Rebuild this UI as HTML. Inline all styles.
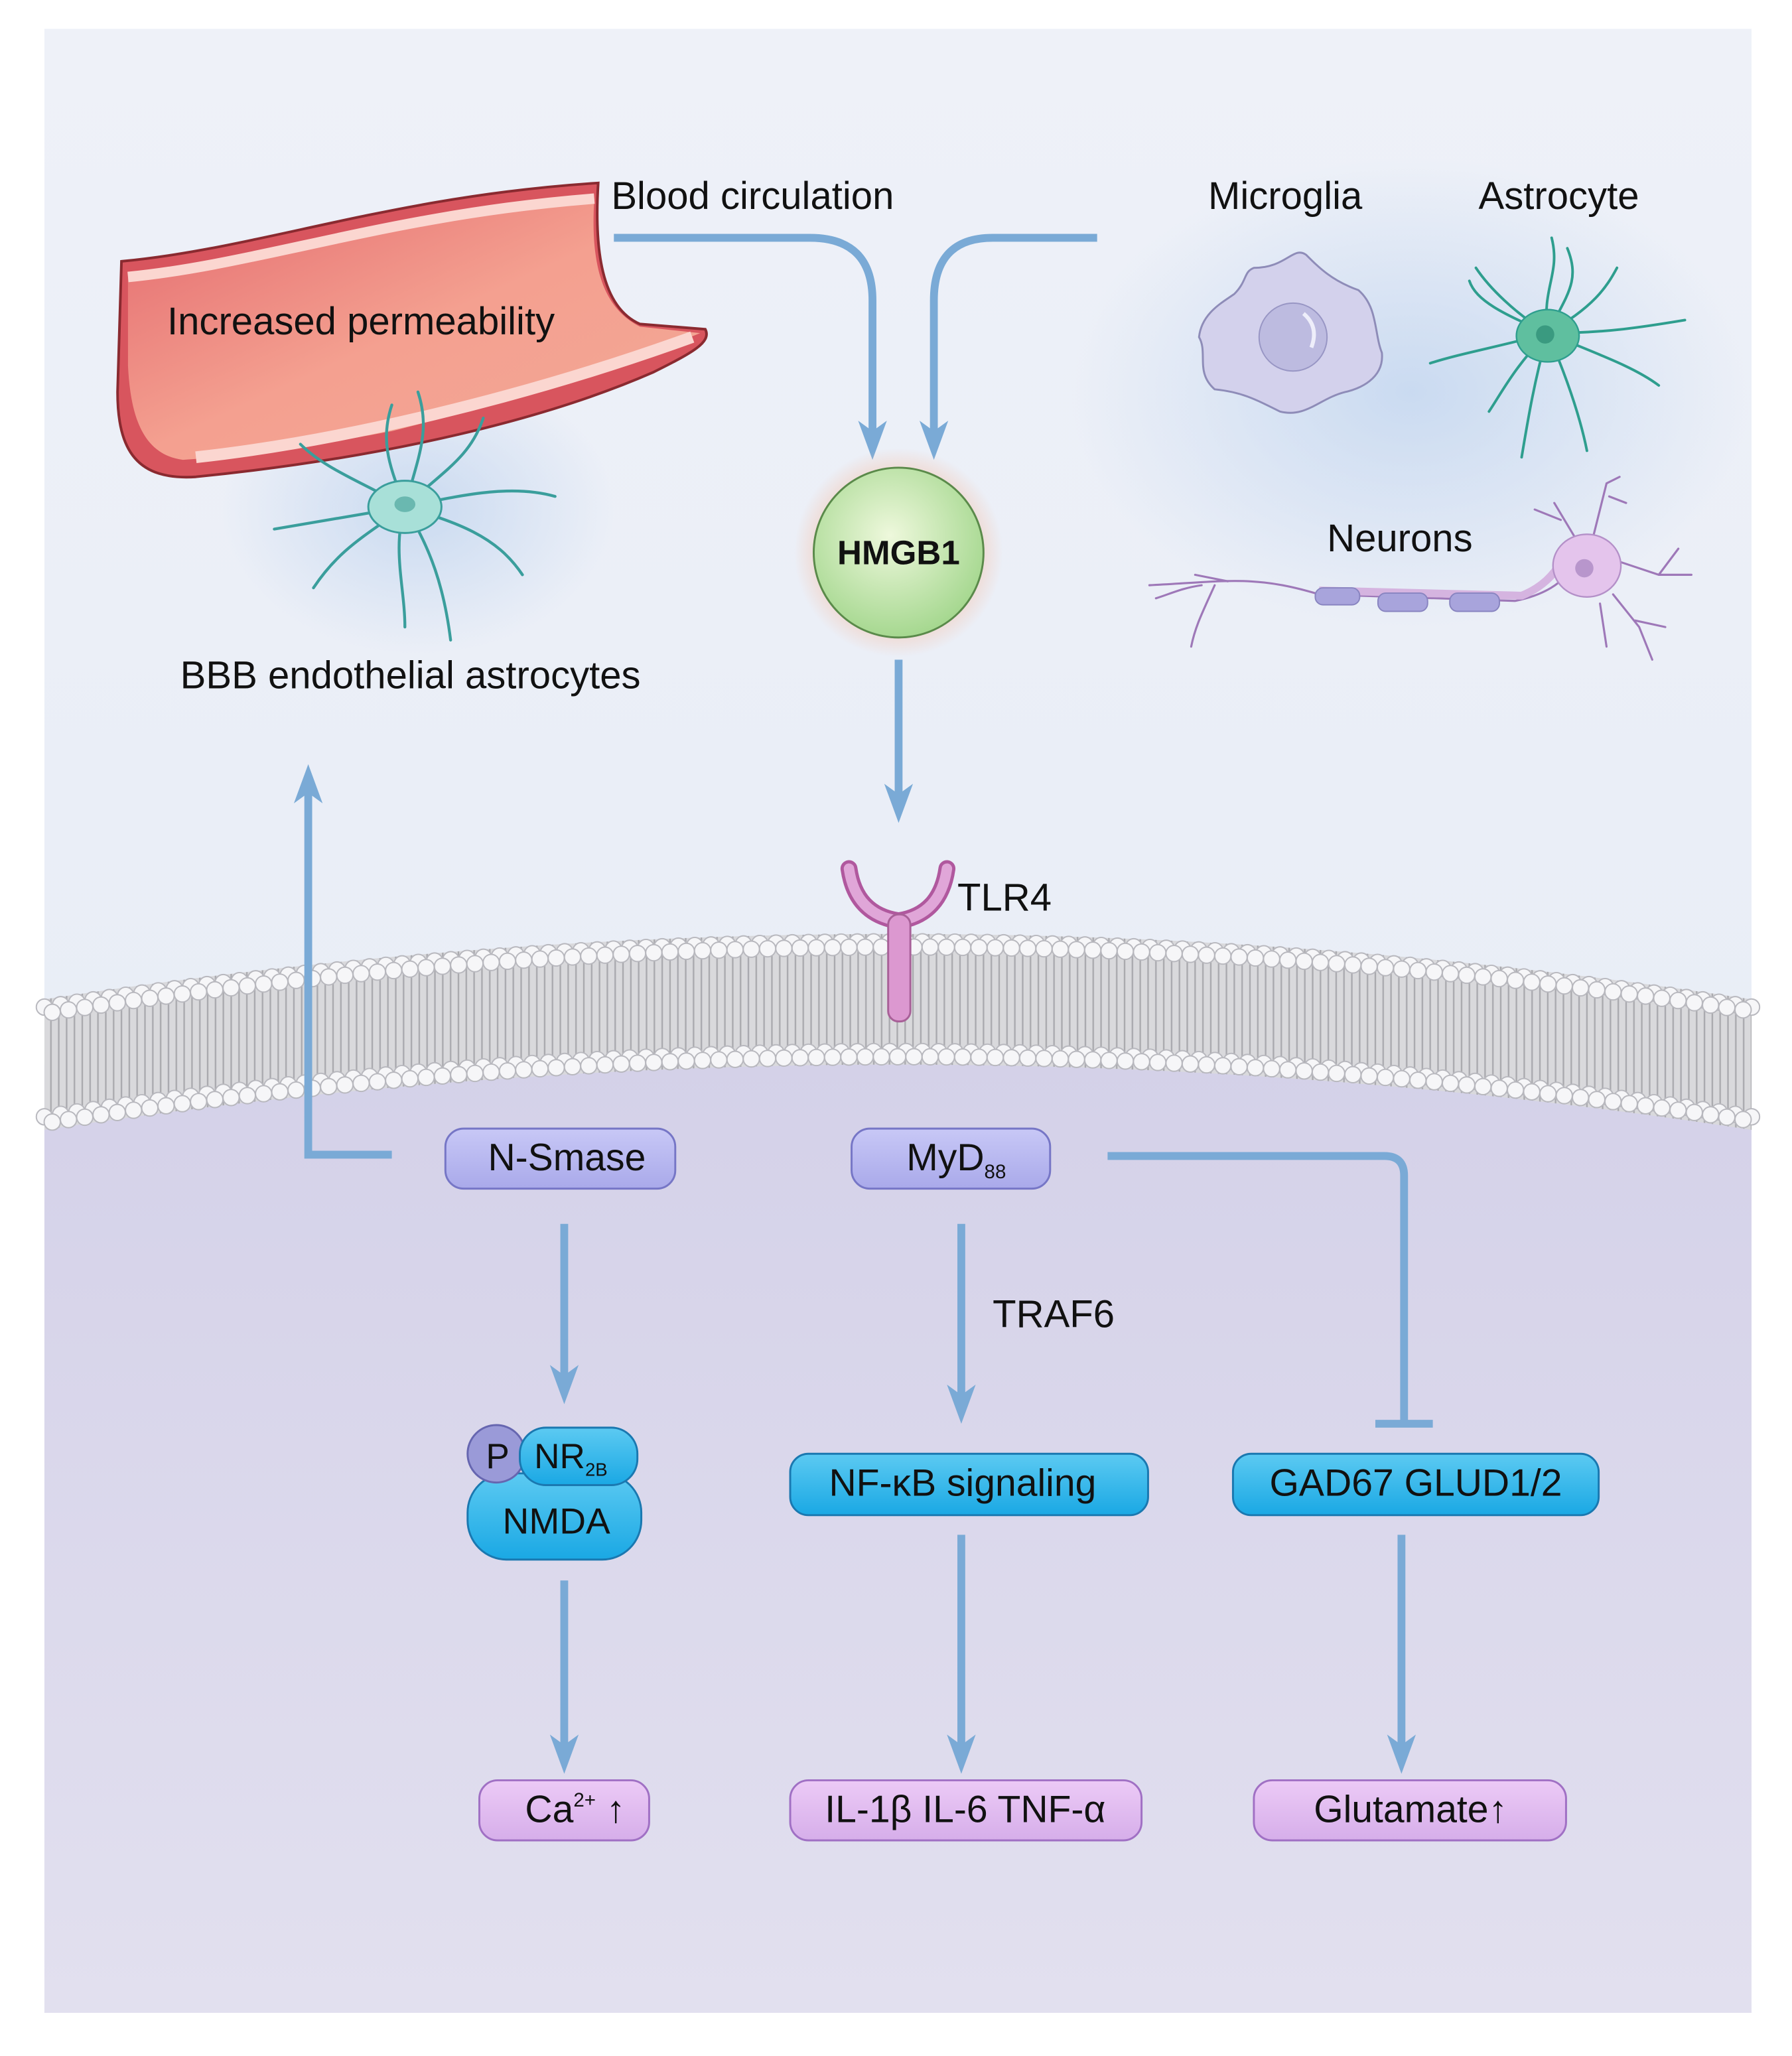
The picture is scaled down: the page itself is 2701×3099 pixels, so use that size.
<!DOCTYPE html>
<html><head><meta charset="utf-8"><style>
html,body{margin:0;padding:0;background:#fff}
svg{display:block}
text{font-family:"Liberation Sans",Arial,sans-serif;fill:#111}
</style></head><body>
<svg id="s" width="2701" height="3099" viewBox="0 0 1372 1574" xmlns="http://www.w3.org/2000/svg">
<defs>
<linearGradient id="bgTop" x1="0" y1="0" x2="0" y2="1"><stop offset="0" stop-color="#eef1f8"/><stop offset="1" stop-color="#e4eaf5"/></linearGradient>
<linearGradient id="bgBot" x1="0" y1="0" x2="0" y2="1"><stop offset="0" stop-color="#d3d0e8"/><stop offset="1" stop-color="#e2e0ef"/></linearGradient>
<radialGradient id="hm" cx="0.45" cy="0.4" r="0.6"><stop offset="0" stop-color="#eef8dc"/><stop offset="1" stop-color="#a6d890"/></radialGradient>
<radialGradient id="glow" cx="0.5" cy="0.5" r="0.5"><stop offset="0.6" stop-color="#f4c0a8" stop-opacity="0.8"/><stop offset="1" stop-color="#f4c0a8" stop-opacity="0"/></radialGradient>
<radialGradient id="blueglow" cx="0.5" cy="0.5" r="0.5"><stop offset="0" stop-color="#c6d8f0" stop-opacity="0.9"/><stop offset="1" stop-color="#c6d8f0" stop-opacity="0"/></radialGradient>
<linearGradient id="ves" x1="0" y1="0" x2="1" y2="1"><stop offset="0" stop-color="#e46a6e"/><stop offset="0.5" stop-color="#f4a090"/><stop offset="1" stop-color="#f2a896"/></linearGradient>
<linearGradient id="blueBox" x1="0" y1="0" x2="0" y2="1"><stop offset="0" stop-color="#5ccaf2"/><stop offset="1" stop-color="#1aa8e4"/></linearGradient>
<linearGradient id="purBox" x1="0" y1="0" x2="0" y2="1"><stop offset="0" stop-color="#c8c8f6"/><stop offset="1" stop-color="#a9a9ea"/></linearGradient>
<linearGradient id="pinkBox" x1="0" y1="0" x2="0" y2="1"><stop offset="0" stop-color="#eccaf6"/><stop offset="1" stop-color="#d6aeea"/></linearGradient>
<pattern id="tails" width="6" height="10" patternUnits="userSpaceOnUse"><rect width="6" height="10" fill="#d9d9dc"/><line x1="3" y1="0" x2="3" y2="10" stroke="#a9a9ae" stroke-width="1.2"/></pattern>
</defs>
<rect width="1372" height="1574" fill="#fff"/>
<rect x="34" y="22" width="1307" height="1519" fill="url(#bgTop)"/>
<ellipse cx="1080" cy="300" rx="260" ry="180" fill="url(#blueglow)"/>
<ellipse cx="320" cy="390" rx="150" ry="110" fill="url(#blueglow)"/>
<path d="M34,815 Q688,715 1341,815 L1341,1541 L34,1541 Z" fill="url(#bgBot)"/>
<path d="M34,765 Q688,665 1341,765 L1341,865 Q688,765 34,865 Z" fill="url(#tails)"/>
<g id="heads" fill="#f6f6f8" stroke="#b8b8be" stroke-width="1"></g>

<!-- vessel -->
<path d="M93,200 C200,190 300,150 458,140 C455,190 460,235 490,248 L540,252 C545,262 530,270 500,285 C420,320 300,350 150,365 C105,368 90,345 90,300 Z" fill="#d8555e" stroke="#8a2a30" stroke-width="2"/>
<path d="M98,212 C200,202 300,164 455,152 C452,200 460,235 490,250 L536,255 C500,270 420,300 300,330 C220,345 170,350 140,352 C110,348 100,320 98,280 Z" fill="url(#ves)"/>
<path d="M98,212 C200,202 300,164 455,152" fill="none" stroke="#fbd6d0" stroke-width="8"/>
<path d="M150,350 C260,338 400,305 530,258" fill="none" stroke="#fbd6d0" stroke-width="9"/>
<text x="128" y="256" font-size="29.5">Increased permeability</text>

<!-- BBB astrocyte -->
<g stroke="#3a9e9c" stroke-width="2.2" fill="none" stroke-linecap="round">
<path d="M310,388 C300,360 290,340 300,310"/><path d="M310,388 C320,350 330,330 320,300"/><path d="M310,388 C340,360 360,350 370,320"/><path d="M310,388 C350,380 390,370 425,380"/><path d="M310,388 C350,400 380,410 400,440"/><path d="M310,388 C330,420 340,450 345,490"/><path d="M310,388 C300,420 310,450 310,480"/><path d="M310,388 C280,410 260,420 240,450"/><path d="M310,388 C270,395 240,400 210,405"/><path d="M310,388 C280,370 250,360 230,340"/>
</g>
<ellipse cx="310" cy="388" rx="28" ry="20" fill="#a8e0d8" stroke="#3a9e9c" stroke-width="1.5"/>
<ellipse cx="310" cy="386" rx="8" ry="6" fill="#6ab8b0"/>
<text x="138" y="527" font-size="29.5">BBB endothelial astrocytes</text>

<text x="468" y="160" font-size="29.5">Blood circulation</text>
<text x="925" y="160" font-size="29.5">Microglia</text>
<text x="1132" y="160" font-size="29.5">Astrocyte</text>
<text x="1016" y="422" font-size="29.5">Neurons</text>

<!-- microglia -->
<path d="M960,205 C985,205 990,188 1000,195 C1010,205 1020,215 1040,222 C1055,235 1052,255 1058,270 C1060,290 1040,298 1030,300 C1010,305 1000,320 980,315 C960,305 950,300 930,298 C915,285 925,270 918,258 C920,240 935,232 945,225 C955,215 952,208 960,205 Z" fill="#d3d1ec" stroke="#8e8cb8" stroke-width="1.5"/>
<circle cx="990" cy="258" r="26" fill="#bdbbe0" stroke="#9896c4" stroke-width="1"/>
<path d="M998,240 Q1010,250 1004,266" stroke="#eeeefa" stroke-width="3" fill="none"/>

<!-- astrocyte right -->
<g stroke="#2e9e8e" stroke-width="2" fill="none" stroke-linecap="round">
<path d="M1185,255 C1180,220 1195,210 1188,182"/><path d="M1185,255 C1200,225 1210,215 1200,190"/><path d="M1185,255 C1220,235 1230,220 1238,205"/><path d="M1185,255 C1230,255 1260,250 1290,245"/><path d="M1185,255 C1220,270 1250,280 1270,295"/><path d="M1185,255 C1200,290 1210,320 1215,345"/><path d="M1185,255 C1175,290 1170,320 1165,350"/><path d="M1185,255 C1160,280 1150,300 1140,315"/><path d="M1185,255 C1150,265 1120,270 1095,278"/><path d="M1185,255 C1160,240 1140,220 1130,205"/><path d="M1185,255 C1150,240 1130,230 1125,215"/>
</g>
<ellipse cx="1185" cy="257" rx="24" ry="20" fill="#5fbf9f" stroke="#2e9e8e" stroke-width="1.2"/>
<circle cx="1183" cy="256" r="7" fill="#3a9a80"/>

<!-- neuron -->
<g stroke="#9e78b8" stroke-width="1.6" fill="none" stroke-linecap="round">
<path d="M880,448 C940,445 960,440 1010,455 L1160,460 C1185,455 1195,445 1200,440"/>
<path d="M930,448 C920,470 915,480 912,495"/><path d="M920,448 C905,450 895,455 885,458"/><path d="M940,445 L915,440"/>
<path d="M1205,410 L1190,385 M1195,398 L1175,390 M1220,410 L1230,370 L1240,365 M1232,380 L1245,385"/>
<path d="M1240,430 L1270,440 L1295,440 M1270,440 L1285,420"/>
<path d="M1235,455 L1255,480 L1265,505 M1252,475 L1275,480 M1225,462 L1230,495"/>
</g>
<path d="M1010,452 L1165,456 C1180,450 1190,440 1195,430" stroke="#d5b4e0" stroke-width="6" fill="none"/>
<ellipse cx="1215" cy="433" rx="26" ry="24" fill="#e4c4ec" stroke="#b490c8" stroke-width="1.2"/>
<circle cx="1213" cy="435" r="7" fill="#b896cc"/>
<g fill="#a8a4dc" stroke="#8884c0" stroke-width="1"><rect x="1007" y="450" width="34" height="13" rx="6"/><rect x="1055" y="454" width="38" height="14" rx="6"/><rect x="1110" y="454" width="38" height="14" rx="6"/></g>

<!-- connectors -->
<g stroke="#7aaad6" stroke-width="6" fill="none">
<path d="M470,182 L620,182 Q668,182 668,230 L668,335"/>
<path d="M840,182 L760,182 Q715,182 715,230 L715,335"/>
<path d="M688,505 L688,612"/>
<path d="M300,884 L236,884 L236,605"/>
<path d="M432,937 L432,1058"/>
<path d="M736,937 L736,1073"/>
<path d="M848,885 L1060,885 Q1075,885 1075,900 L1075,1090"/>
<path d="M1053,1090 L1097,1090"/>
<path d="M432,1210 L432,1342"/>
<path d="M736,1175 L736,1342"/>
<path d="M1073,1175 L1073,1342"/>
</g>
<g fill="#7aaad6">
<polygon points="657,322 668,352 679,322 668,330"/>
<polygon points="704,322 715,352 726,322 715,330"/>
<polygon points="677,600 688,630 699,600 688,608"/>
<polygon points="225,615 236,585 247,615 236,607"/>
<polygon points="421,1045 432,1075 443,1045 432,1053"/>
<polygon points="725,1060 736,1090 747,1060 736,1068"/>
<polygon points="421,1328 432,1358 443,1328 432,1336"/>
<polygon points="725,1328 736,1358 747,1328 736,1336"/>
<polygon points="1062,1328 1073,1358 1084,1328 1073,1336"/>
</g>

<!-- HMGB1 -->
<circle cx="688" cy="423" r="80" fill="url(#glow)"/>
<circle cx="688" cy="423" r="65" fill="url(#hm)" stroke="#5a8a4a" stroke-width="1.5"/>
<text x="688" y="432" font-size="26" font-weight="bold" text-anchor="middle">HMGB1</text>

<!-- TLR4 -->
<path d="M650,665 Q655,700 688,705 Q720,700 725,665" stroke="#b0589e" stroke-width="13" fill="none" stroke-linecap="round"/>
<path d="M650,665 Q655,700 688,705 Q720,700 725,665" stroke="#e0a6d8" stroke-width="8" fill="none" stroke-linecap="round"/>
<rect x="680" y="700" width="17" height="82" rx="8" fill="#dc98d0" stroke="#a86098" stroke-width="1.5"/>
<text x="733" y="697" font-size="29.5">TLR4</text>
<text x="760" y="1016" font-size="29.5">TRAF6</text>

<!-- boxes -->
<g stroke="#7676c6" stroke-width="1.5" fill="url(#purBox)">
<rect x="341" y="864" width="176" height="46" rx="14"/>
<rect x="652" y="864" width="152" height="46" rx="14"/>
</g>
<text x="434" y="896" font-size="29" text-anchor="middle">N-Smase</text>
<text x="694" y="896" font-size="29">MyD<tspan font-size="15" dy="6">88</tspan></text>

<g stroke="#1a78b0" stroke-width="1.5" fill="url(#blueBox)">
<rect x="605" y="1113" width="274" height="47" rx="14"/>
<rect x="944" y="1113" width="280" height="47" rx="14"/>
<rect x="358" y="1128" width="133" height="66" rx="30"/>
</g>
<circle cx="380" cy="1113" r="22" fill="#9a9ad8" stroke="#6666b0" stroke-width="1.5"/>
<rect x="398" y="1093" width="90" height="44" rx="20" fill="url(#blueBox)" stroke="#1a78b0" stroke-width="1.5"/>
<text x="372" y="1124" font-size="27">P</text>
<text x="409" y="1124" font-size="27">NR<tspan font-size="14" dy="6">2B</tspan></text>
<text x="426" y="1174" font-size="28" text-anchor="middle">NMDA</text>
<text x="737" y="1145" font-size="29" text-anchor="middle">NF-κB signaling</text>
<text x="1084" y="1145" font-size="29" text-anchor="middle">GAD67 GLUD1/2</text>

<g stroke="#a070c4" stroke-width="1.5" fill="url(#pinkBox)">
<rect x="367" y="1363" width="130" height="46" rx="14"/>
<rect x="605" y="1363" width="269" height="46" rx="14"/>
<rect x="960" y="1363" width="239" height="46" rx="14"/>
</g>
<text x="402" y="1395" font-size="29">Ca<tspan font-size="15" dy="-12">2+</tspan><tspan dy="12"> ↑</tspan></text>
<text x="739" y="1395" font-size="29" text-anchor="middle">IL-1β IL-6 TNF-α</text>
<text x="1080" y="1395" font-size="29" text-anchor="middle">Glutamate↑</text>
</svg>
<script>
(function(){var g=document.getElementById('heads'),ns='http://www.w3.org/2000/svg';
function q(t,y0,c){var x=34+(1341-34)*t;var y=(1-t)*(1-t)*y0+2*(1-t)*t*c+t*t*y0;return [x,y];}
[[765,665,6],[778,678,-3],[852,752,3],[865,765,-6]].forEach(function(r,i){
for(var k=0;k<=1;k+=1/105){var p=q(k,r[0],r[1]);var c=document.createElementNS(ns,'circle');
c.setAttribute('cx',p[0]+(i%2?6:0));c.setAttribute('cy',p[1]+r[2]);c.setAttribute('r',6.2);
if(p[0]+(i%2?6:0)<=1341)g.appendChild(c);}});})();
</script>
</body></html>
